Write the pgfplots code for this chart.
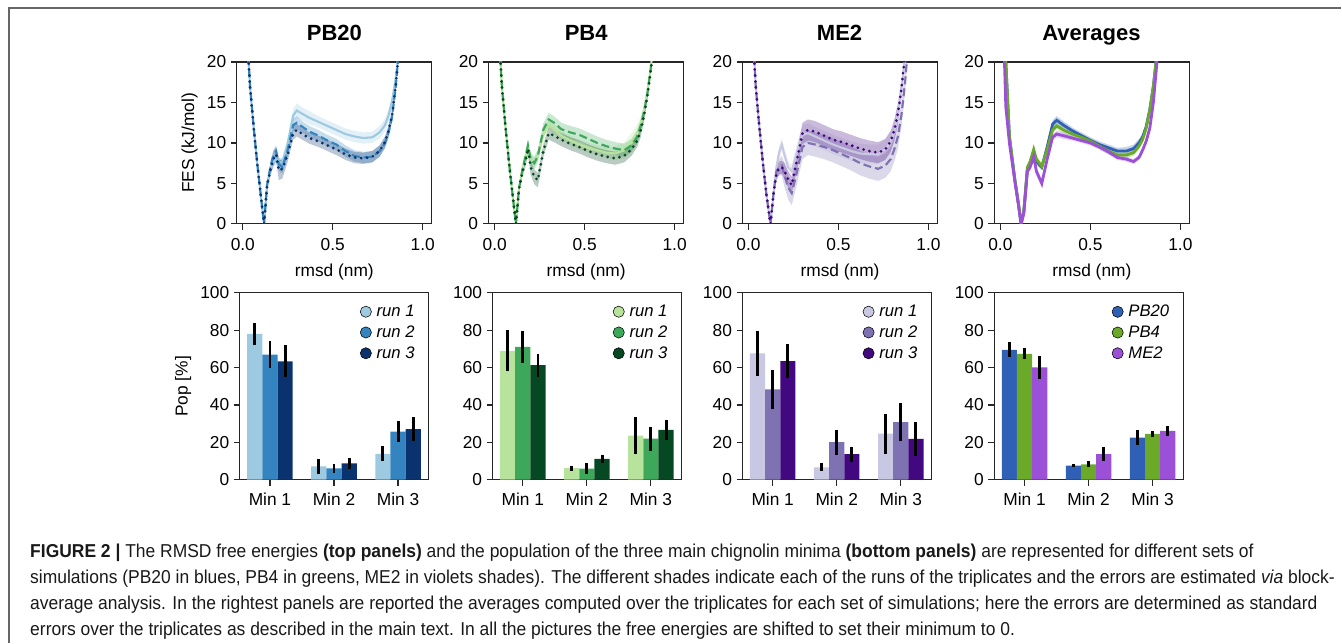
\documentclass[border=0pt]{standalone}
\usepackage{fontspec}
\setmainfont{Liberation Sans}
\newfontfamily\capfont[FakeStretch=0.935]{Liberation Sans}
\usepackage{pgfplots}
\usepackage{pgfplotstable}
\pgfplotsset{compat=1.18}
\usepgfplotslibrary{fillbetween}

\definecolor{b1}{RGB}{158,202,225}
\definecolor{b2}{RGB}{52,132,192}
\definecolor{b3}{RGB}{10,50,110}
\definecolor{g1}{RGB}{184,227,156}
\definecolor{g2}{RGB}{62,168,90}
\definecolor{g3}{RGB}{6,72,34}
\definecolor{p1}{RGB}{200,200,226}
\definecolor{p2}{RGB}{126,114,178}
\definecolor{p3}{RGB}{66,8,128}
\definecolor{a1}{RGB}{48,96,182}
\definecolor{a2}{RGB}{106,170,40}
\definecolor{a3}{RGB}{155,80,215}

% FES curves: x, run means and errors
\pgfplotstableread{
x r1 e1 r2 e2 r3 e3
0.02 25 0.4 25 0.4 25 0.4
0.04 17 0.4 17 0.4 17 0.4
0.06 12 0.4 12 0.4 12 0.4
0.08 7.5 0.4 7.5 0.4 7.5 0.4
0.10 3.5 0.3 3.5 0.3 3.5 0.3
0.118 0 0.2 0 0.2 0 0.2
0.135 4.8 0.4 4.8 0.4 4.8 0.5
0.155 7.0 0.6 7.2 0.6 6.8 0.8
0.17 7.6 0.6 8.5 0.7 8.0 0.9
0.185 8.0 0.6 9.0 0.7 8.6 0.9
0.20 7.6 0.6 7.4 0.8 6.6 1.2
0.22 7.6 0.6 7.0 0.8 6.8 1.2
0.25 10.0 0.7 9.2 0.8 8.6 0.9
0.28 13.4 0.8 12.2 0.8 11.2 0.8
0.30 14.0 0.9 12.5 0.8 11.6 0.8
0.33 13.6 0.8 12.0 0.7 11.1 0.7
0.37 13.1 0.8 11.4 0.7 10.6 0.7
0.42 12.6 0.7 10.9 0.7 10.2 0.7
0.47 12.1 0.7 10.3 0.7 9.7 0.7
0.52 11.6 0.7 9.8 0.7 9.2 0.7
0.57 11.1 0.7 9.0 0.7 8.6 0.7
0.62 10.8 0.7 8.4 0.7 8.2 0.7
0.67 10.6 0.7 8.2 0.7 8.1 0.7
0.72 10.7 0.7 8.3 0.7 8.3 0.7
0.76 11.3 0.8 9.0 0.7 9.0 0.7
0.79 12.2 0.8 10.0 0.7 10.1 0.7
0.81 13.4 0.8 11.3 0.7 11.5 0.7
0.83 15.2 0.8 13.3 0.7 13.5 0.7
0.85 18.0 0.8 17.0 0.7 17.2 0.7
0.87 22 0.8 22 0.7 22 0.7
}\pbA

\pgfplotstableread{
x r1 e1 r2 e2 r3 e3
0.02 25 0.4 25 0.4 25 0.4
0.04 17 0.4 17 0.4 17 0.4
0.06 12 0.4 12 0.4 12 0.4
0.08 7.5 0.4 7.5 0.4 7.5 0.4
0.10 3.5 0.3 3.5 0.3 3.5 0.3
0.118 0 0.2 0 0.2 0 0.2
0.135 4.3 0.4 4.3 0.4 4.3 0.4
0.155 6.8 0.5 6.8 0.6 6.5 0.6
0.17 8.0 0.5 8.2 0.7 7.6 0.7
0.185 9.5 0.5 9.7 0.8 9.3 0.8
0.20 8.0 0.5 8.0 0.8 7.0 0.9
0.22 7.6 0.5 7.5 0.8 5.8 0.9
0.24 8.4 0.5 8.4 0.8 5.4 0.9
0.27 11.0 0.6 11.6 0.8 9.0 0.8
0.30 12.2 0.6 12.9 0.8 11.2 0.8
0.33 11.7 0.6 12.5 0.8 10.9 0.8
0.37 10.9 0.6 11.7 0.8 10.4 0.8
0.42 10.3 0.6 11.3 0.8 9.9 0.8
0.47 9.8 0.6 11.0 0.8 9.5 0.8
0.52 9.4 0.6 10.5 0.8 9.0 0.8
0.57 9.1 0.6 10.0 0.8 8.6 0.8
0.62 8.8 0.7 9.6 0.8 8.3 0.8
0.67 8.7 0.8 9.3 0.8 8.1 0.8
0.72 9.1 1.0 9.1 0.8 8.4 0.8
0.76 10.0 1.2 9.7 0.8 9.2 0.8
0.79 11.0 1.2 10.7 0.8 10.2 0.8
0.81 12.2 1.0 12.0 0.8 11.4 0.8
0.83 14.0 0.8 13.8 0.8 13.4 0.8
0.85 16.5 0.6 16.3 0.6 16.0 0.6
0.87 19.8 0.5 19.6 0.5 19.5 0.5
0.89 24 0.5 24 0.5 24 0.5
}\pbB

\pgfplotstableread{
x r1 e1 r2 e2 r3 e3
0.02 25 0.5 25 0.5 25 0.5
0.04 17 0.8 17 0.8 17 0.5
0.06 12 1.0 12 1.0 12 0.5
0.08 7.5 0.8 7.5 0.8 7.5 0.5
0.10 3.5 0.5 3.5 0.5 3.5 0.4
0.122 0 0.3 0 0.3 0 0.3
0.14 4.0 0.6 4.0 0.6 4.0 0.6
0.155 7.0 0.8 6.5 1.0 6.2 0.8
0.17 8.8 0.8 7.0 1.0 6.9 0.8
0.185 9.8 0.8 7.2 1.2 7.0 0.8
0.20 8.5 0.8 6.0 1.5 6.5 1.0
0.22 7.0 0.8 4.5 1.5 5.5 1.0
0.24 6.5 0.8 3.8 1.5 4.8 1.0
0.27 9.0 1.0 6.5 1.5 8.0 1.2
0.30 11.0 1.2 9.5 1.5 11.2 1.3
0.33 11.2 1.2 10.0 1.5 11.6 1.3
0.37 10.8 1.2 9.8 1.5 11.4 1.3
0.42 10.3 1.2 9.5 1.5 10.9 1.3
0.47 9.8 1.2 9.1 1.5 10.4 1.3
0.52 9.4 1.2 8.6 1.5 10.1 1.3
0.57 9.0 1.2 8.1 1.5 9.7 1.3
0.62 8.7 1.2 7.5 1.5 9.3 1.3
0.67 8.6 1.2 7.1 1.5 9.0 1.3
0.72 8.6 1.2 6.8 1.5 8.8 1.3
0.76 9.2 1.2 7.2 1.5 9.2 1.3
0.79 10.2 1.2 8.0 1.5 10.2 1.3
0.81 11.5 1.2 9.2 1.5 11.6 1.3
0.83 13.5 1.2 10.8 1.5 13.6 1.3
0.85 16.5 1.0 13.5 1.5 16.8 1.0
0.87 20.5 1.0 17.5 1.2 21 1.0
0.89 25 1 23 1 25 1
}\pbC

\pgfplotstableread{
x r1 e1 r2 e2 r3 e3
0.02 25 0.3 25 0.3 22 0.4
0.03 20 0.3 20 0.3 14.5 0.4
0.05 10.8 0.3 10.8 0.3 10 0.4
0.08 5.5 0.3 5.5 0.3 5.3 0.3
0.10 2.5 0.2 2.5 0.2 2.4 0.2
0.115 0 0.1 0 0.1 0 0.1
0.13 1.5 0.2 1.5 0.2 1.3 0.3
0.15 6.8 0.3 7.0 0.3 6.5 0.4
0.165 7.4 0.3 7.7 0.3 7.0 0.4
0.185 8.8 0.4 9.2 0.4 8.3 0.4
0.20 7.7 0.4 8.0 0.4 6.5 0.5
0.23 7.0 0.4 7.1 0.4 5.0 0.5
0.26 9.5 0.4 9.2 0.4 8.0 0.4
0.29 12.3 0.5 11.6 0.4 10.7 0.4
0.313 12.8 0.5 12.1 0.4 11.1 0.4
0.35 12.2 0.5 11.6 0.4 10.9 0.4
0.40 11.5 0.4 11.1 0.4 10.6 0.3
0.45 10.9 0.4 10.7 0.4 10.3 0.3
0.50 10.3 0.4 10.2 0.4 10.0 0.3
0.55 9.8 0.4 9.6 0.4 9.5 0.3
0.60 9.4 0.4 9.0 0.4 8.9 0.3
0.65 9.0 0.4 8.5 0.4 8.2 0.3
0.70 9.0 0.5 8.5 0.4 8.0 0.3
0.74 9.3 0.5 8.8 0.4 7.7 0.3
0.77 10.0 0.5 9.6 0.4 8.2 0.3
0.79 10.7 0.5 10.4 0.4 9.1 0.4
0.81 12.0 0.5 11.8 0.4 10.2 0.4
0.83 14.1 0.5 14.0 0.4 11.8 0.4
0.85 17.0 0.5 17.0 0.4 15.0 0.4
0.87 21 0.5 21 0.4 20 0.4
0.89 25 0.5 25 0.4 25 0.4
}\pbD

\tikzset{
  solidrun/.style={line width=1.6pt},
  dashrun/.style={line width=1.6pt, dash pattern=on 6pt off 3pt},
  dotrun/.style={line width=2.3pt, line cap=round, dash pattern=on 0pt off 4.5pt},
  avgrun/.style={line width=2.1pt},
}

% band (mean +- error) and line for one run
\newcommand{\fesrun}[5]{%
  \addplot[name path=u#2, draw=none, forget plot] table[x=x, y expr=\thisrow{#2}+\thisrow{#3}] {#1};
  \addplot[name path=l#2, draw=none, forget plot] table[x=x, y expr=\thisrow{#2}-\thisrow{#3}] {#1};
  \addplot[fill=#4, fill opacity=0.28, draw=none, forget plot] fill between[of=u#2 and l#2];
  \addplot[#4, #5, forget plot] table[x=x, y=#2] {#1};
}

% one series of bars, placed at their own x positions
\newcommand{\popbar}[2]{%
  \addplot[ybar, bar width=0.237, bar shift=0pt, fill=#1, draw=none, forget plot,
    error bars/.cd, y dir=both, y explicit, error mark=none,
    error bar style={line width=2.2pt, black}] coordinates {#2};
}

\pgfplotsset{
  common/.style={
    scale only axis, anchor=north west,
    tick align=outside, xtick pos=left, ytick pos=left,
    major tick length=4.5pt,
    axis line style={line width=0.9pt, black!85},
    every tick/.style={line width=0.9pt, black!85},
    ticklabel style={font=\fontsize{13}{13}\selectfont},
    label style={font=\fontsize{13}{13}\selectfont},
    /pgf/number format/assume math mode=true,
  },
  fes/.style={common, width=146.25pt, height=121.5pt,
    xmin=-0.033, xmax=1.05, ymin=0, ymax=20,
    xtick={0,0.5,1}, xticklabels={0.0,0.5,1.0}, ytick={0,5,10,15,20},
    xticklabel shift=3pt,
    xlabel={rmsd (nm)}, xlabel style={yshift=-3pt}},
  pop/.style={common, width=141.75pt, height=140.25pt,
    xmin=-0.47, xmax=2.48, ymin=0, ymax=100,
    xtick={0,1,2}, xticklabels={Min 1,Min 2,Min 3}, ytick={0,20,40,60,80,100},
    xticklabel shift=1.5pt,
    legend style={draw=none, fill=none, at={(0.935,0.945)}, anchor=north east,
      font=\itshape\fontsize{12.5}{13}\selectfont, inner sep=0pt, row sep=3pt,
      column sep=2.5pt, nodes={inner sep=1.2pt}},
    legend cell align=left,
    legend image code/.code={\fill[##1] (0pt,0pt) circle (4.2pt);}},
}

\begin{document}
\begin{tikzpicture}
\path (0,0) rectangle (1006.5pt,-482.25pt);
\draw[black!60, line width=1.1pt] (6.75pt,-482.25pt) -- (6.75pt,-6pt) -- (1006.5pt,-6pt);

\foreach \t/\xc in {PB20/250.9, PB4/439.9, ME2/630, Averages/819}
  \node[anchor=base, font=\bfseries\fontsize{16.5}{16.5}\selectfont] at (\xc pt,-30.75pt) {\t};

% top row: free energy profiles
\begin{axis}[fes, at={(177.75pt,-46.5pt)}, ylabel={FES (kJ/mol)}]
\fesrun{\pbA}{r1}{e1}{b1}{solidrun}
\fesrun{\pbA}{r2}{e2}{b2}{dashrun}
\fesrun{\pbA}{r3}{e3}{b3}{dotrun}
\end{axis}
\begin{axis}[fes, at={(366.75pt,-46.5pt)}]
\fesrun{\pbB}{r1}{e1}{g1}{solidrun}
\fesrun{\pbB}{r2}{e2}{g2}{dashrun}
\fesrun{\pbB}{r3}{e3}{g3}{dotrun}
\end{axis}
\begin{axis}[fes, at={(557.25pt,-46.5pt)}]
\fesrun{\pbC}{r1}{e1}{p1}{solidrun}
\fesrun{\pbC}{r2}{e2}{p2}{dashrun}
\fesrun{\pbC}{r3}{e3}{p3}{dotrun}
\end{axis}
\begin{axis}[fes, at={(746.25pt,-46.5pt)}]
\fesrun{\pbD}{r1}{e1}{a1}{avgrun}
\fesrun{\pbD}{r2}{e2}{a2}{avgrun}
\fesrun{\pbD}{r3}{e3}{a3}{avgrun}
\end{axis}

% bottom row: populations of the minima (runs at -0.237, 0, +0.237 around each minimum)
\begin{axis}[pop, at={(180pt,-219.75pt)}, ylabel={Pop [\%]}]
\popbar{b1}{(-0.237,78) +- (0,6) (0.763,7.1) +- (0,4) (1.763,13.9) +- (0,4)}
\popbar{b2}{(0,67) +- (0,7) (1,6.1) +- (0,2.3) (2,25.7) +- (0,5.5)}
\popbar{b3}{(0.237,63.4) +- (0,8.5) (1.237,8.8) +- (0,3.1) (2.237,27.1) +- (0,6.4)}
\addlegendimage{fill=b1}\addlegendentry{run 1}
\addlegendimage{fill=b2}\addlegendentry{run 2}
\addlegendimage{fill=b3}\addlegendentry{run 3}
\end{axis}
\begin{axis}[pop, at={(369.75pt,-219.75pt)}]
\popbar{g1}{(-0.237,69) +- (0,11) (0.763,6.2) +- (0,1.3) (1.763,23.6) +- (0,10)}
\popbar{g2}{(0,71.1) +- (0,8.5) (1,6) +- (0,2.8) (2,22) +- (0,6.4)}
\popbar{g3}{(0.237,61.3) +- (0,6.2) (1.237,11.2) +- (0,2.2) (2.237,26.7) +- (0,5.3)}
\addlegendimage{fill=g1}\addlegendentry{run 1}
\addlegendimage{fill=g2}\addlegendentry{run 2}
\addlegendimage{fill=g3}\addlegendentry{run 3}
\end{axis}
\begin{axis}[pop, at={(557.25pt,-219.75pt)}]
\popbar{p1}{(-0.237,67.6) +- (0,12) (0.763,6.6) +- (0,2.1) (1.763,24.7) +- (0,10.7)}
\popbar{p2}{(0,48.4) +- (0,10.5) (1,20.1) +- (0,6.7) (2,30.8) +- (0,10)}
\popbar{p3}{(0.237,63.5) +- (0,9.2) (1.237,13.7) +- (0,4) (2.237,21.9) +- (0,9)}
\addlegendimage{fill=p1}\addlegendentry{run 1}
\addlegendimage{fill=p2}\addlegendentry{run 2}
\addlegendimage{fill=p3}\addlegendentry{run 3}
\end{axis}
\begin{axis}[pop, at={(746.25pt,-219.75pt)}]
\popbar{a1}{(-0.237,69.5) +- (0,4) (0.763,7.6) +- (0,0.9) (1.763,22.6) +- (0,4)}
\popbar{a2}{(0,67.4) +- (0,3) (1,8.2) +- (0,1.6) (2,24.5) +- (0,1.4)}
\popbar{a3}{(0.237,60.1) +- (0,6) (1.237,13.7) +- (0,3.9) (2.237,26.1) +- (0,2.7)}
\addlegendimage{fill=a1}\addlegendentry{PB20}
\addlegendimage{fill=a2}\addlegendentry{PB4}
\addlegendimage{fill=a3}\addlegendentry{ME2}
\end{axis}

% caption
\begin{scope}[every node/.style={anchor=base west, inner sep=0pt, font=\capfont\fontsize{14}{14}\selectfont, text=black!90}]
\node at (22.5pt,-418.5pt) {\textbf{FIGURE 2 |} The RMSD free energies \textbf{(top panels)} and the population of the three main chignolin minima \textbf{(bottom panels)} are represented for different sets of};
\node at (22.5pt,-438pt) {simulations (PB20 in blues, PB4 in greens, ME2 in violets shades). The different shades indicate each of the runs of the triplicates and the errors are estimated \textit{via} block-};
\node at (22.5pt,-457.5pt) {average analysis. In the rightest panels are reported the averages computed over the triplicates for each set of simulations; here the errors are determined as standard};
\node at (22.5pt,-477pt) {errors over the triplicates as described in the main text. In all the pictures the free energies are shifted to set their minimum to 0.};
\end{scope}
\end{tikzpicture}
\end{document}
